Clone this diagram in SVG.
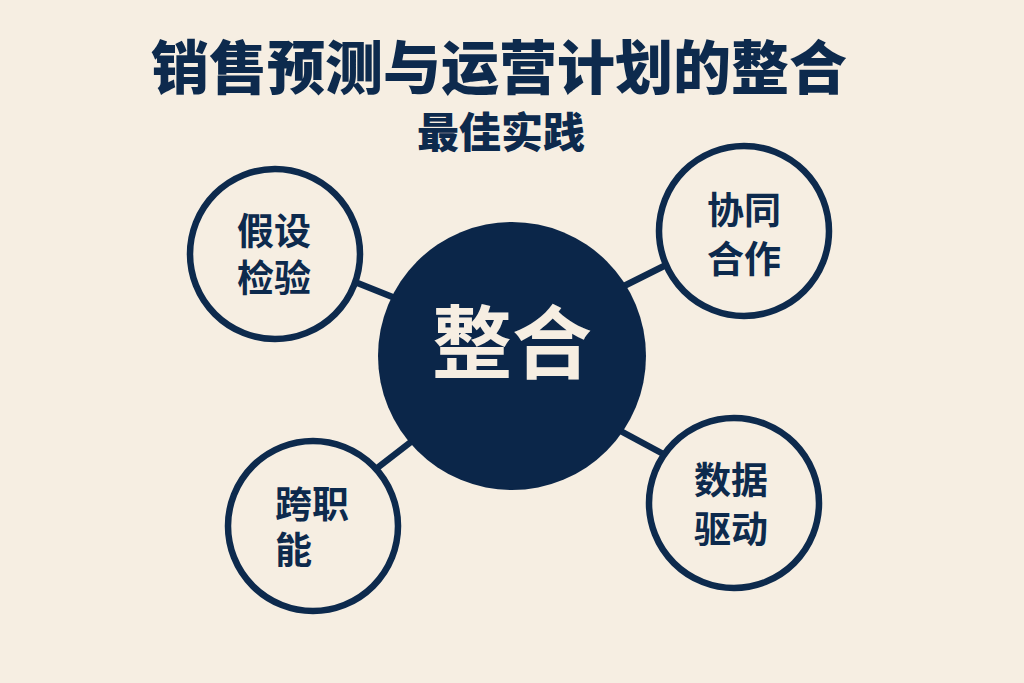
<svg xmlns="http://www.w3.org/2000/svg" width="1024" height="683" viewBox="0 0 1024 683">
<style>
.t{font-family:"Noto Sans CJK SC","Noto Sans",sans-serif;font-weight:900;fill:#0d2a4d;text-anchor:middle}
.ring{fill:#f6eee2;stroke:#0d2a4d;stroke-width:6.5}
.lbl{font-family:"Noto Sans CJK SC","Noto Sans",sans-serif;font-weight:700;fill:#0d2a4d;font-size:37px}
.conn line{stroke:#0d2a4d;stroke-width:6.5;stroke-linecap:butt}
</style>
<rect width="1024" height="683" fill="#f6eee2"/>
<g id="title">
<text class="t" x="499" y="89" font-size="58">销售预测与运营计划的整合</text>
<text class="t" x="501" y="148" font-size="42">最佳实践</text>
</g>
<g class="conn" id="connectors">
<line x1="350" y1="280" x2="400" y2="300"/>
<line x1="620" y1="288" x2="668" y2="264"/>
<line x1="372" y1="472" x2="416" y2="438"/>
<line x1="615" y1="428" x2="667" y2="456"/>
</g>
<g id="center">
<circle cx="512" cy="356" r="134" fill="#0b2649"/>
<text x="512" y="372" font-family="Noto Sans CJK SC,Noto Sans,sans-serif" font-weight="700" font-size="80" fill="#f6eee2" text-anchor="middle">整合</text>
</g>
<g id="node-tl">
<circle class="ring" cx="275" cy="254" r="85"/>
<text class="lbl" x="274" y="245" text-anchor="middle">假设</text>
<text class="lbl" x="274" y="292" text-anchor="middle">检验</text>
</g>
<g id="node-tr">
<circle class="ring" cx="744" cy="231" r="85"/>
<text class="lbl" x="744" y="224" text-anchor="middle">协同</text>
<text class="lbl" x="744" y="273" text-anchor="middle">合作</text>
</g>
<g id="node-bl">
<circle class="ring" cx="313" cy="526" r="85"/>
<text class="lbl" x="275" y="518">跨职</text>
<text class="lbl" x="275" y="564">能</text>
</g>
<g id="node-br">
<circle class="ring" cx="734" cy="503" r="85"/>
<text class="lbl" x="731" y="494" text-anchor="middle">数据</text>
<text class="lbl" x="731" y="543" text-anchor="middle">驱动</text>
</g>
</svg>
